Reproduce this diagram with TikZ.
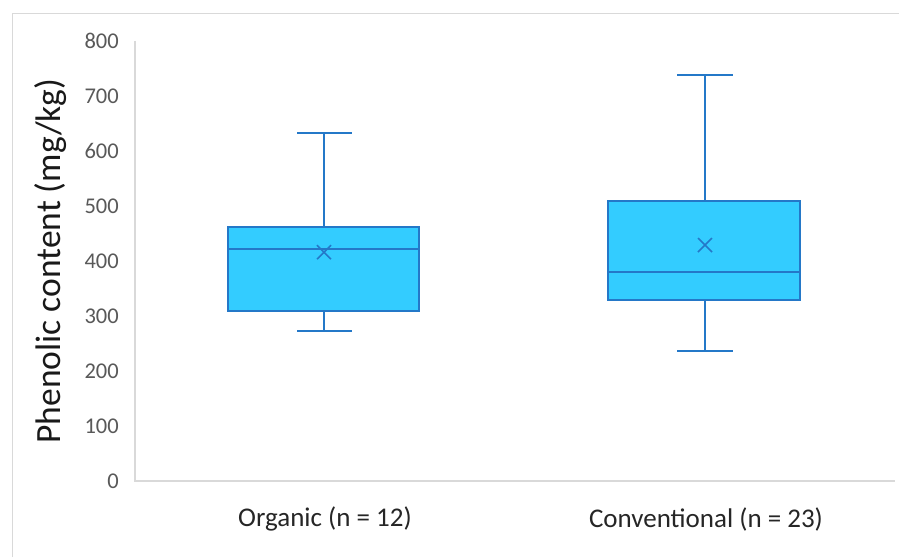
\documentclass[tikz,border=0pt]{standalone}
\usepackage{fontspec}
\setmainfont{Carlito}
\definecolor{boxfill}{HTML}{33CCFF}
\definecolor{boxline}{HTML}{2478C8}
\definecolor{gridgray}{HTML}{D9D9D9}
\definecolor{ticktext}{HTML}{595959}
\begin{document}
\begin{tikzpicture}[x=1pt,y=1pt,
  ticklab/.style={anchor=east,text=ticktext,font=\fontsize{22.5}{26}\selectfont,inner sep=0pt},
  catlab/.style={anchor=center,text=black!85,font=\fontsize{27}{32}\selectfont,inner sep=0pt},
  boxst/.style={draw=boxline,fill=boxfill,line width=1.8pt},
  whisk/.style={draw=boxline,line width=1.8pt}]
\useasboundingbox (0,0) rectangle (899,557);
\fill[white] (0,0) rectangle (899,557);
% frame
\draw[gridgray,line width=1pt] (12,0) -- (12,543) -- (899,543);
% axes
\draw[gridgray,line width=1.2pt] (135,516) -- (135,76) -- (895,76);
% tick labels
\foreach \v in {0,100,...,800}{
  \node[ticklab] (t\v) at (119,{76+0.55*\v}) {\v};
}
% y title
\node[rotate=90,font=\fontsize{35.5}{42}\selectfont,text=black!90,inner sep=0pt] (ytitle) at (51,296) {Phenolic content (mg/kg)};
% Organic box: lw 273, q1 309, med 422, q3 462, uw 633, mean 416
\def\cx{324}
\draw[whisk] (\cx,{76+0.55*462}) -- (\cx,{76+0.55*633});
\draw[whisk] (297,{76+0.55*633}) -- (352,{76+0.55*633});
\draw[whisk] (\cx,{76+0.55*309}) -- (\cx,{76+0.55*273});
\draw[whisk] (297,{76+0.55*273}) -- (352,{76+0.55*273});
\draw[boxst] (228,{76+0.55*309}) rectangle (419,{76+0.55*462});
\draw[whisk] (228,{76+0.55*422}) -- (419,{76+0.55*422});
\draw[whisk,line width=1.5pt] (\cx-7,{76+0.55*416-7}) -- (\cx+7,{76+0.55*416+7})
  (\cx-7,{76+0.55*416+7}) -- (\cx+7,{76+0.55*416-7});
% Conventional box: lw 236, q1 329, med 380, q3 509, uw 738, mean 429
\def\cx{705}
\draw[whisk] (\cx,{76+0.55*509}) -- (\cx,{76+0.55*738});
\draw[whisk] (677,{76+0.55*738}) -- (733,{76+0.55*738});
\draw[whisk] (\cx,{76+0.55*329}) -- (\cx,{76+0.55*236});
\draw[whisk] (677,{76+0.55*236}) -- (733,{76+0.55*236});
\draw[boxst] (608,{76+0.55*329}) rectangle (800,{76+0.55*509});
\draw[whisk] (608,{76+0.55*380}) -- (800,{76+0.55*380});
\draw[whisk,line width=1.5pt] (\cx-7,{76+0.55*429-7}) -- (\cx+7,{76+0.55*429+7})
  (\cx-7,{76+0.55*429+7}) -- (\cx+7,{76+0.55*429-7});
% category labels
\node[catlab] (org) at (325,38) {Organic (n = 12)};
\node[catlab] (conv) at (706,38) {Conventional (n = 23)};
\end{tikzpicture}
\end{document}
